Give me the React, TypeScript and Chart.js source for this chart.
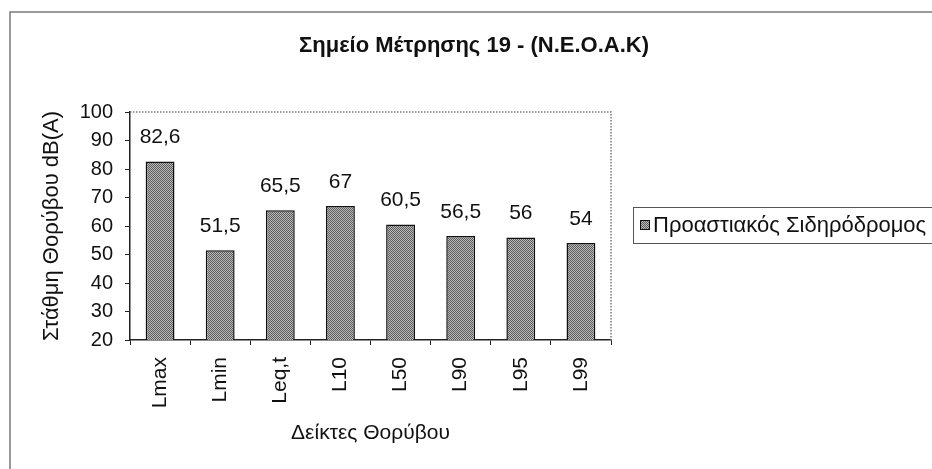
import React, { useEffect, useRef } from "react";
import { Chart, registerables } from "chart.js";

Chart.register(...registerables);

const categories: string[] = ["Lmax", "Lmin", "Leq,t", "L10", "L50", "L90", "L95", "L99"];
const values: number[] = [82.6, 51.5, 65.5, 67, 60.5, 56.5, 56, 54];
const seriesName = "Προαστιακός Σιδηρόδρομος";
const chartTitle = "Σημείο Μέτρησης 19 - (Ν.Ε.Ο.Α.Κ)";
const yAxisTitle = "Στάθμη Θορύβου dB(A)";
const xAxisTitle = "Δείκτες Θορύβου";
const yMin = 20;
const yMax = 100;
const yStep = 10;

const FONT = "'Liberation Sans', Arial, sans-serif";

function makePattern(): CanvasPattern | string {
  const c = document.createElement("canvas");
  c.width = 2;
  c.height = 2;
  const g = c.getContext("2d");
  if (!g) return "#999999";
  g.fillStyle = "#bcbcbc";
  g.fillRect(0, 0, 2, 2);
  g.fillStyle = "#5a5a5a";
  g.fillRect(0, 0, 1, 1);
  g.fillRect(1, 1, 1, 1);
  const p = g.createPattern(c, "repeat");
  return p || "#999999";
}

export default function App() {
  const ref = useRef<HTMLCanvasElement | null>(null);

  useEffect(() => {
    if (!ref.current) return;
    const pattern = makePattern();

    const decor = {
      id: "decor",
      beforeDraw(chart: any) {
        const ctx = chart.ctx;
        ctx.save();
        ctx.fillStyle = "#ffffff";
        ctx.fillRect(0, 0, chart.width, chart.height);
        ctx.strokeStyle = "#7a7a7a";
        ctx.lineWidth = 1.5;
        ctx.beginPath();
        ctx.moveTo(10, chart.height);
        ctx.lineTo(10, 12);
        ctx.lineTo(chart.width, 12);
        ctx.stroke();
        ctx.fillStyle = "#111";
        ctx.font = `bold 22px ${FONT}`;
        ctx.textAlign = "center";
        ctx.textBaseline = "middle";
        ctx.fillText(chartTitle, 474, 46);
        ctx.restore();
      },
      afterDraw(chart: any) {
        const ctx = chart.ctx;
        const a = chart.chartArea;
        ctx.save();
        ctx.strokeStyle = "#777";
        ctx.lineWidth = 1.5;
        ctx.setLineDash([1.5, 1.5]);
        ctx.beginPath();
        ctx.moveTo(a.left, a.top);
        ctx.lineTo(a.right, a.top);
        ctx.lineTo(a.right, a.bottom);
        ctx.stroke();
        ctx.setLineDash([]);
        ctx.strokeStyle = "#555";
        ctx.lineWidth = 1;
        ctx.strokeRect(633.5, 207.5, 320, 36);
        ctx.fillStyle = pattern as any;
        ctx.fillRect(640, 220, 10, 10);
        ctx.strokeStyle = "#111";
        ctx.strokeRect(640.5, 220.5, 9, 9);
        ctx.fillStyle = "#111";
        ctx.font = `22px ${FONT}`;
        ctx.textAlign = "left";
        ctx.textBaseline = "middle";
        ctx.fillText(seriesName, 653, 226);
        ctx.restore();
      },
      afterDatasetsDraw(chart: any) {
        const ctx = chart.ctx;
        const meta = chart.getDatasetMeta(0);
        ctx.save();
        ctx.fillStyle = "#111";
        ctx.font = `21px ${FONT}`;
        ctx.textAlign = "center";
        ctx.textBaseline = "middle";
        meta.data.forEach((bar: any, i: number) => {
          const v = values[i];
          ctx.fillText(String(v).replace(".", ","), bar.x, bar.y - 24);
        });
        ctx.restore();
      },
    };

    const chart = new Chart(ref.current, {
      type: "bar",
      data: {
        labels: categories,
        datasets: [
          {
            label: seriesName,
            data: values,
            backgroundColor: pattern as any,
            borderColor: "#111",
            borderWidth: 1.5,
            categoryPercentage: 1,
            barPercentage: 0.48,
          },
        ],
      },
      options: {
        responsive: false,
        animation: false,
        layout: { padding: { left: 0, right: 321, top: 112, bottom: 0 } },
        plugins: {
          legend: { display: false },
          title: { display: false },
          tooltip: { enabled: false },
        },
        scales: {
          x: {
            offset: true,
            afterFit: (s: any) => {
              s.height = 129;
            },
            grid: {
              offset: true,
              drawOnChartArea: false,
              drawTicks: true,
              tickLength: 5,
              color: "#222",
            },
            border: { display: true, color: "#222", width: 1.5 },
            ticks: {
              minRotation: 90,
              maxRotation: 90,
              padding: 12,
              color: "#111",
              font: { family: FONT, size: 21 },
            },
            title: {
              display: true,
              text: xAxisTitle,
              color: "#111",
              font: { family: FONT, size: 21 },
              padding: { top: 0, bottom: 23 },
            },
          },
          y: {
            min: yMin,
            max: yMax,
            afterFit: (s: any) => {
              s.width = 130;
            },
            grid: {
              drawOnChartArea: false,
              drawTicks: true,
              tickLength: 5,
              color: "#222",
            },
            border: { display: true, color: "#222", width: 1.5 },
            ticks: {
              stepSize: yStep,
              padding: 12,
              color: "#111",
              font: { family: FONT, size: 20 },
            },
            title: {
              display: true,
              text: yAxisTitle,
              color: "#111",
              font: { family: FONT, size: 22 },
              padding: { top: 39, bottom: 0 },
            },
          },
        },
      },
      plugins: [decor],
    });

    return () => chart.destroy();
  }, []);

  return (
    <div style={{ position: "absolute", left: 0, top: 0, width: 932, height: 469 }}>
      <canvas ref={ref} width={932} height={469} />
    </div>
  );
}
